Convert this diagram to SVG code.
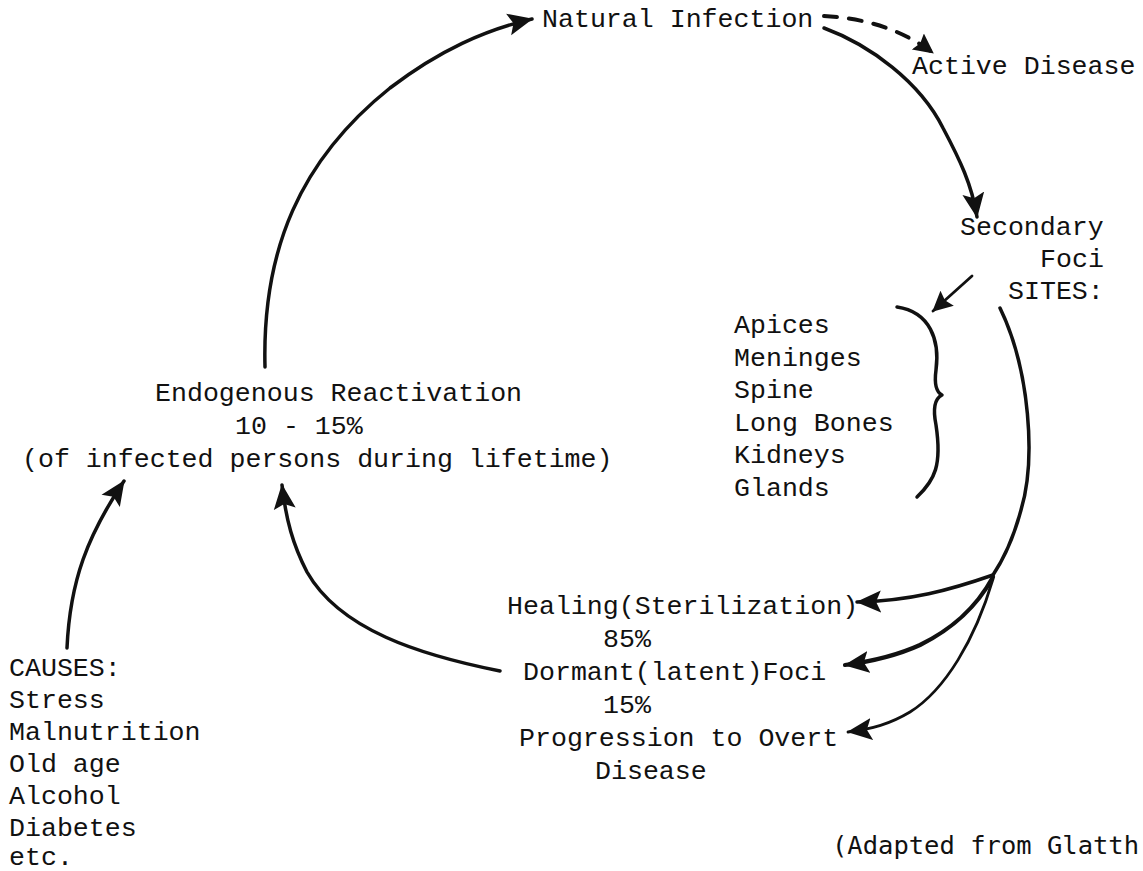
<svg xmlns="http://www.w3.org/2000/svg" width="1143" height="871" viewBox="0 0 1143 871">
<defs>
<style>
text{font-family:"Liberation Mono","DejaVu Sans Mono",monospace;font-size:26.6px;fill:#111}
.ln{fill:none;stroke:#111;stroke-width:3.5;stroke-linecap:round;stroke-linejoin:round}
.thin{stroke-width:2.8}
.thick{stroke-width:4.2}
.dash{stroke-dasharray:13 12;stroke-width:4}
.ft{font-family:"DejaVu Sans Mono","Liberation Mono",monospace;font-size:25.5px}
</style>
<marker id="ah" markerUnits="userSpaceOnUse" markerWidth="28" markerHeight="26" refX="24" refY="12" orient="auto" viewBox="0 0 28 24">
<path d="M0,1 L25,12 L0,23 L5,12 Z" fill="#111"/>
</marker>
<marker id="ahs" markerUnits="userSpaceOnUse" markerWidth="22" markerHeight="22" refX="19" refY="10" orient="auto" viewBox="0 0 22 20">
<path d="M0,0 L20,10 L0,20 L3,10 Z" fill="#111"/>
</marker>
</defs>
<g id="connectors">
<path class="ln" d="M265,367 C 262,250 300,160 390,88 C 440,50 485,30 532,19" marker-end="url(#ah)"/>
<path class="ln dash" d="M824,16 C 862,18 900,28 933,53" marker-end="url(#ahs)"/>
<path class="ln" d="M824,28 C 870,45 920,82 943,128 C 960,160 972,185 977,217" marker-end="url(#ah)"/>
<path class="ln thin" d="M972,276 L 933,311" marker-end="url(#ahs)"/>
<path class="ln" d="M897,307 C 930,312 940,340 936,370 C 934,385 936,392 942,395 C 936,398 932,405 936,425 C 942,465 935,480 917,497"/>
<path class="ln" d="M1000,308 C 1030,370 1036,460 1021,510 C 1013,540 1003,560 993,575"/>
<path class="ln" d="M993,575 C 950,590 910,601 857,602" marker-end="url(#ah)"/>
<path class="ln thick" d="M993,577 C 975,610 950,630 920,645 C 898,655 875,661 845,665" marker-end="url(#ah)"/>
<path class="ln thin" d="M993,579 C 975,640 945,690 910,712 C 890,724 872,729 848,732" marker-end="url(#ah)"/>
<path class="ln" d="M500,671 C 420,655 340,630 307,572 C 293,545 286,520 282,485" marker-end="url(#ah)"/>
<path class="ln" d="M67,648 C 70,580 88,535 124,481" marker-end="url(#ah)"/>
</g>
<g id="natural-infection"><text x="542" y="27">Natural Infection</text></g>
<g id="active-disease"><text x="912" y="74">Active Disease</text></g>
<g id="secondary-foci">
<text x="960" y="235">Secondary</text>
<text x="1040" y="267">Foci</text>
<text x="1008" y="299">SITES:</text>
</g>
<g id="sites">
<text x="734" y="333">Apices</text>
<text x="734" y="366">Meninges</text>
<text x="734" y="398">Spine</text>
<text x="734" y="431">Long Bones</text>
<text x="734" y="463">Kidneys</text>
<text x="734" y="496">Glands</text>
</g>
<g id="reactivation">
<text x="155" y="401">Endogenous Reactivation</text>
<text x="235" y="434">10 - 15%</text>
<text x="22" y="467">(of infected persons during lifetime)</text>
</g>
<g id="outcomes">
<text x="507" y="614">Healing(Sterilization)</text>
<text x="603" y="647">85%</text>
<text x="523" y="680">Dormant(latent)Foci</text>
<text x="603" y="713">15%</text>
<text x="519" y="746">Progression to Overt</text>
<text x="595" y="779">Disease</text>
</g>
<g id="causes">
<text x="9" y="676">CAUSES:</text>
<text x="9" y="708">Stress</text>
<text x="9" y="740">Malnutrition</text>
<text x="9" y="772">Old age</text>
<text x="9" y="804">Alcohol</text>
<text x="9" y="836">Diabetes</text>
<text x="9" y="865">etc.</text>
</g>
<g id="source"><text class="ft" x="832" y="854">(Adapted from Glatth</text></g>
</svg>
